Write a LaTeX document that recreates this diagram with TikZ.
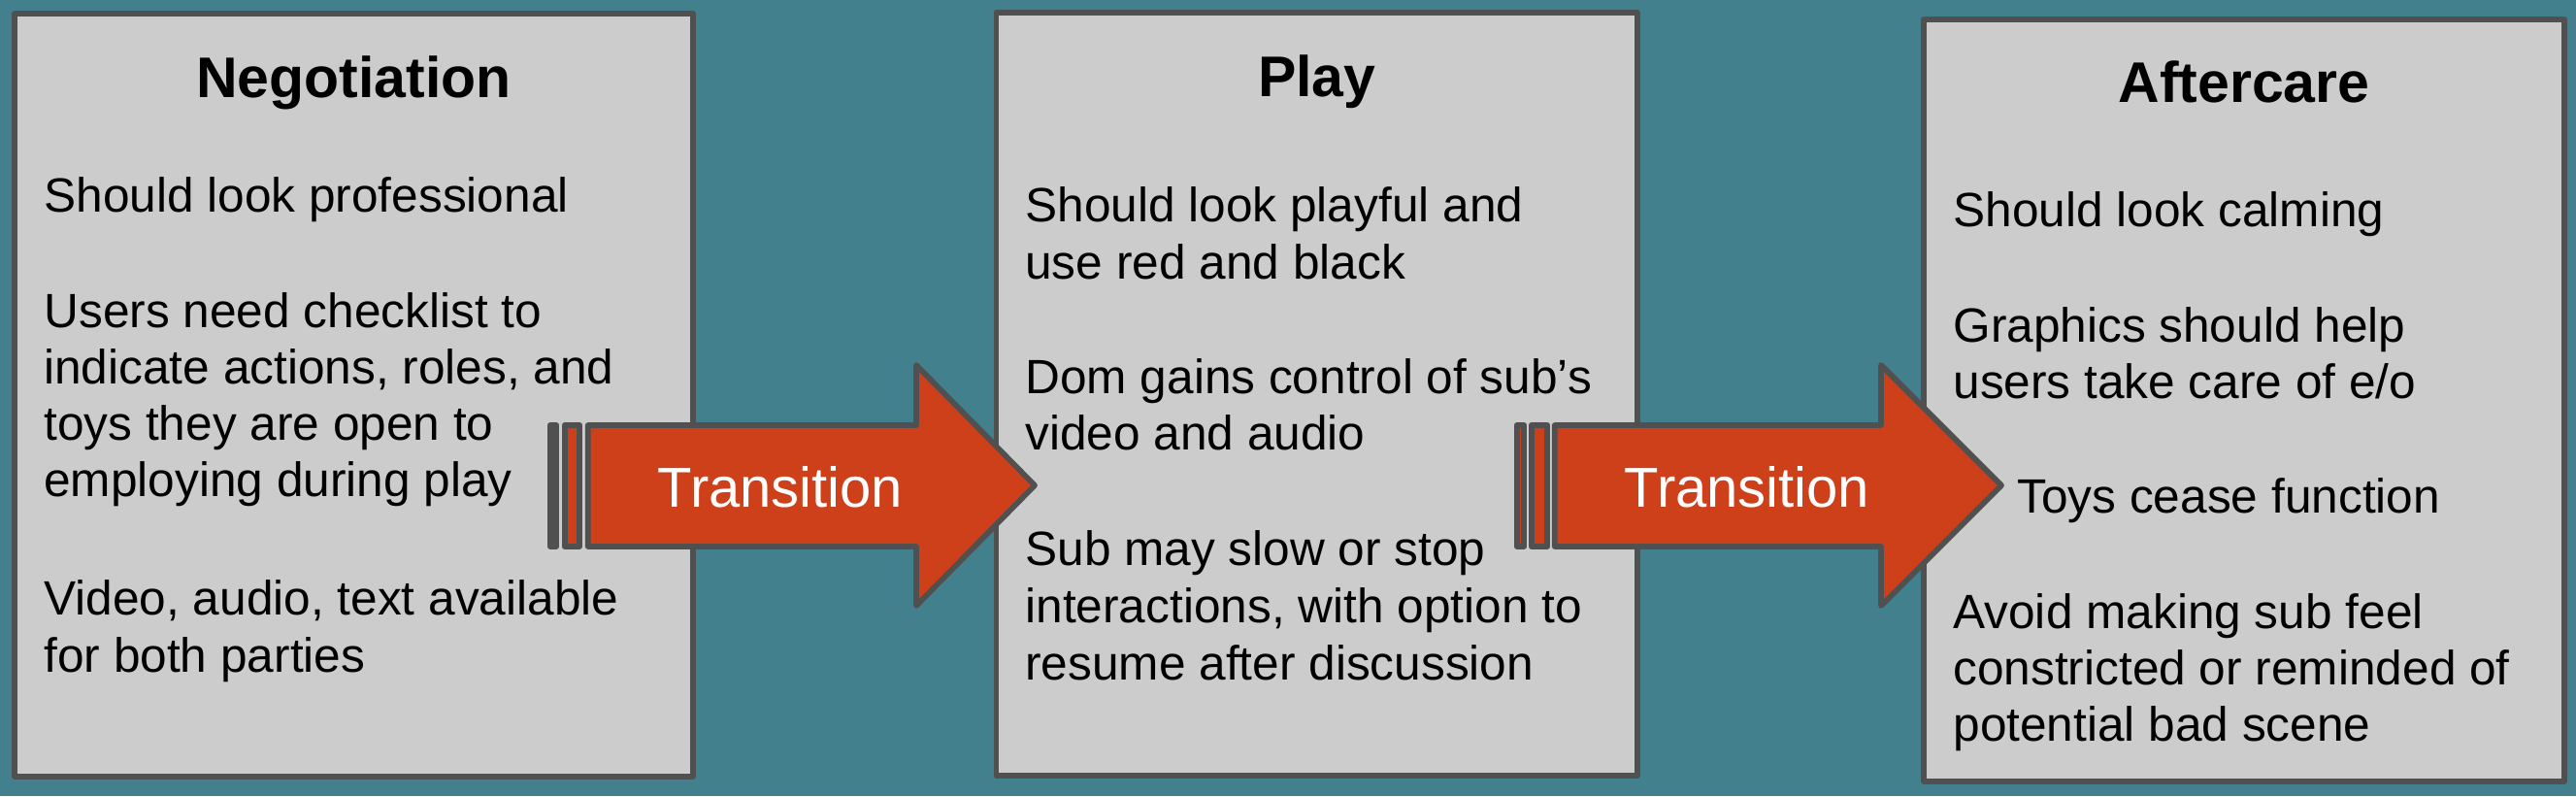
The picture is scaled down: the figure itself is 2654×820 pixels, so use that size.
\documentclass[tikz,border=0pt]{standalone}
\usepackage{fontspec}
\setmainfont{Liberation Sans}
\definecolor{bg}{RGB}{66,128,142}
\definecolor{boxfill}{RGB}{204,204,204}
\definecolor{edge}{RGB}{80,80,80}
\definecolor{arrowfill}{RGB}{205,64,26}
\begin{document}
\begin{tikzpicture}[x=0.5pt,y=-0.5pt,
  stage/.style={draw=edge, fill=boxfill, line width=2.85pt, rectangle, inner sep=0pt, line join=round},
  bodytxt/.style={anchor=base west, inner sep=0pt, font=\fontsize{24.8pt}{29pt}\selectfont},
  titletxt/.style={anchor=base, inner sep=0pt, font=\fontsize{29.5pt}{35pt}\selectfont\bfseries},
  arrowshape/.style={draw=edge, fill=arrowfill, line width=2.85pt, line join=round},
  arrowtxt/.style={anchor=base, inner sep=0pt, text=white, font=\fontsize{29pt}{35pt}\selectfont}]
\fill[bg] (0,0) rectangle (2654,820);
\useasboundingbox (0,0) rectangle (2654,820);

% stage boxes
\node[stage, minimum width=349.5pt, minimum height=393pt] (b1) at (364.5,407) {};
\node[stage, minimum width=330.25pt, minimum height=393pt] (b2) at (1356.75,406) {};
\node[stage, minimum width=330pt, minimum height=392.5pt] (b3) at (2312,412.5) {};

% box 1 text
\node[titletxt] (t1) at (364.5,100) {Negotiation};
\node[bodytxt] (p1a) at (45,218) {Should look professional};
\node[bodytxt] (p1b) at (45,337) {Users need checklist to};
\node[bodytxt] (p1c) at (45,395) {indicate actions, roles, and};
\node[bodytxt] (p1d) at (45,453) {toys they are open to};
\node[bodytxt] (p1e) at (45,511) {employing during play};
\node[bodytxt] (p1f) at (45,633) {Video, audio, text available};
\node[bodytxt] (p1g) at (45,692) {for both parties};

% box 2 text
\node[titletxt] (t2) at (1356.75,99) {Play};
\node[bodytxt] (p2a) at (1056,228) {Should look playful and};
\node[bodytxt] (p2b) at (1056,287) {use red and black};
\node[bodytxt] (p2c) at (1056,405) {Dom gains control of sub’s};
\node[bodytxt] (p2d) at (1056,463) {video and audio};
\node[bodytxt] (p2e) at (1056,582) {Sub may slow or stop};
\node[bodytxt] (p2f) at (1056,641) {interactions, with option to};
\node[bodytxt] (p2g) at (1056,700) {resume after discussion};

% box 3 text
\node[titletxt] (t3) at (2312,105) {Aftercare};
\node[bodytxt] (p3a) at (2012,233) {Should look calming};
\node[bodytxt] (p3b) at (2012,352) {Graphics should help};
\node[bodytxt] (p3c) at (2012,410) {users take care of e/o};
\node[bodytxt] (p3d) at (2078,528) {Toys cease function};
\node[bodytxt] (p3e) at (2012,647) {Avoid making sub feel};
\node[bodytxt] (p3f) at (2012,705) {constricted or reminded of};
\node[bodytxt] (p3g) at (2012,763) {potential bad scene};

% transition arrow 1
\draw[arrowshape] (566.75,438) rectangle (573.25,563);
\draw[arrowshape] (581.75,438) rectangle (597.25,563);
\draw[arrowshape] (605.75,438) -- (944,438) -- (944,376) -- (1066,500) -- (944,624) -- (944,563) -- (605.75,563) -- cycle;
\node[arrowtxt] (a1) at (804,522) {Transition};

% transition arrow 2
\draw[arrowshape] (1562.75,438) rectangle (1570.25,563);
\draw[arrowshape] (1577.75,438) rectangle (1594.25,563);
\draw[arrowshape] (1601.75,438) -- (1938,438) -- (1938,376) -- (2062,500) -- (1938,624) -- (1938,563) -- (1601.75,563) -- cycle;
\node[arrowtxt] (a2) at (1800,522) {Transition};
\end{tikzpicture}
\end{document}
